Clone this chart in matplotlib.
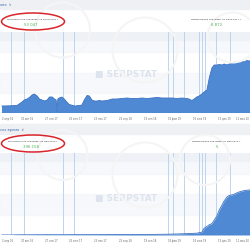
import matplotlib
matplotlib.use("Agg")
import matplotlib.pyplot as plt
from matplotlib.patches import Ellipse, Rectangle, Circle
import pandas as pd

# top chart: visibility over time
top_dates = ["2016-04-01", "2016-05-01", "2016-06-01", "2016-07-01", "2016-07-15",
             "2016-08-01", "2016-08-15", "2016-09-01", "2016-09-15", "2016-10-01",
             "2016-10-15", "2016-11-01", "2016-11-15", "2016-12-01", "2016-12-15",
             "2017-01-01", "2017-01-15", "2017-02-01", "2017-02-15", "2017-02-25",
             "2017-03-02", "2017-03-07", "2017-03-15", "2017-04-01", "2017-04-15",
             "2017-05-01", "2017-05-15", "2017-06-01", "2017-06-22", "2017-07-01",
             "2017-07-15", "2017-08-01", "2017-08-15", "2017-09-01", "2017-09-15",
             "2017-10-01", "2017-10-15", "2017-11-01", "2017-11-15", "2017-12-01",
             "2018-01-01", "2018-02-01", "2018-03-01", "2018-04-01", "2018-05-01",
             "2018-06-01", "2018-07-01", "2018-08-01", "2018-09-01", "2018-10-01",
             "2018-11-01", "2018-12-01", "2019-01-01", "2019-02-01", "2019-03-01",
             "2019-04-01", "2019-05-01", "2019-05-15", "2019-06-01", "2019-06-15",
             "2019-07-01", "2019-07-15", "2019-08-01", "2019-08-15", "2019-09-01",
             "2019-09-15", "2019-10-01", "2019-10-15", "2019-11-01", "2019-11-15",
             "2019-12-01", "2019-12-15", "2020-01-01", "2020-01-15", "2020-02-01",
             "2020-02-15", "2020-03-01", "2020-03-15", "2020-04-01", "2020-04-15",
             "2020-05-01", "2020-05-15", "2020-06-18"]
top_values = [7000, 7100, 7300, 7500, 9000,
              11000, 13000, 14000, 15500, 18000,
              19000, 17000, 14000, 13000, 12000,
              13000, 16000, 16000, 14000, 13000,
              1500, 14000, 15000, 16000, 14000,
              11000, 8500, 7800, 6872, 7300,
              7500, 8000, 13000, 17500, 17000,
              13000, 12000, 12000, 12500, 12000,
              12500, 14000, 14000, 14500, 15000,
              14500, 14500, 15000, 14500, 15000,
              15500, 15000, 15000, 15000, 14500,
              15000, 14500, 14000, 12500, 14000,
              16000, 17000, 19000, 21000, 23000,
              35000, 45000, 48000, 48000, 48500,
              48000, 49000, 48000, 49000, 50000,
              51000, 50000, 51000, 52000, 51000,
              52500, 52000, 53047]

# bottom chart: keywords over time
bottom_dates = ["2016-04-01", "2016-05-20", "2016-07-01", "2016-10-01", "2017-01-01",
                "2017-04-01", "2017-07-01", "2017-10-01", "2018-01-01", "2018-04-01",
                "2018-07-01", "2018-10-01", "2019-01-01", "2019-03-01", "2019-05-01",
                "2019-07-01", "2019-08-01", "2019-08-15", "2019-09-01", "2019-09-15",
                "2019-10-01", "2019-10-15", "2019-11-01", "2019-11-15", "2019-12-01",
                "2019-12-15", "2020-01-01", "2020-01-15", "2020-02-01", "2020-02-15",
                "2020-03-01", "2020-03-15", "2020-04-01", "2020-04-15", "2020-05-01",
                "2020-05-20"]
bottom_values = [200, 5, 1500, 2000, 2500,
                 2500, 3000, 3000, 3500, 4000,
                 4500, 5000, 7000, 9000, 12000,
                 16000, 25000, 60000, 75000, 90000,
                 100000, 130000, 170000, 220000, 262000,
                 300000, 334000, 348000, 352000, 360000,
                 370000, 378000, 385000, 390000, 393000,
                 396158]

# event markers (vertical lines) on both charts
event_dates = ["2016-05-25", "2016-08-12", "2017-04-07", "2017-06-12", "2019-01-07",
               "2019-02-07", "2019-04-12", "2019-07-12", "2019-08-01", "2019-08-19",
               "2019-10-25", "2020-01-19"]

tick_dates = ["2016-04-02", "2016-08-30", "2017-01-27", "2017-06-26", "2017-11-23",
              "2018-04-22", "2018-09-19", "2019-02-16", "2019-07-16", "2019-12-13",
              "2020-05-11"]
tick_labels = ["2 апр 16", "30 авг 16", "27 янв 17", "26 июн 17", "23 ноя 17",
               "22 апр 18", "19 сен 18", "16 фев 19", "16 июл 19", "13 дек 19",
               "11 мая 20"]

panels = [
    dict(dates=top_dates, values=top_values, ymax=81000, rect=[0, 0.548, 1, 0.324],
         header="ово", head_y=0.98, mark_y=0.47,
         max_txt="Максимальное значение: 18 июня 2020 г.", max_val="53 047",
         min_txt="Минимальное значение: 22 июня 2017 г.", min_val="6 872", txt_y=0.924),
    dict(dates=bottom_dates, values=bottom_values, ymax=720000, rect=[0, 0.06, 1, 0.328],
         header="сех время", head_y=0.48, mark_y=0.45,
         max_txt="Максимальное значение: 20 мая 2020 г.", max_val="396 158",
         min_txt="Минимальное значение: 20 мая 2016 г.", min_val="5", txt_y=0.436),
]

fig = plt.figure(figsize=(2.5, 2.5), dpi=100)
fig.patch.set_facecolor("white")

# grey header bands
fig.add_artist(Rectangle((0, 0.964), 1, 0.036, transform=fig.transFigure,
                         color="#eef0f3", zorder=0))
fig.add_artist(Rectangle((0, 0.464), 1, 0.04, transform=fig.transFigure,
                         color="#eef0f3", zorder=0))

# faint logo-like watermark circles
for cx, cy, r in [(0.25, 0.88, 0.11), (0.58, 0.8, 0.13), (0.93, 0.85, 0.1),
                  (0.58, 0.3, 0.13), (0.82, 0.36, 0.1), (0.25, 0.38, 0.1)]:
    fig.add_artist(Circle((cx, cy), r, transform=fig.transFigure, fill=False,
                          ec="#f5f5f5", lw=1.5, zorder=0.5))

xmin = pd.Timestamp("2016-03-20")
xmax = pd.Timestamp("2020-05-20")

for p in panels:
    ax = fig.add_axes(p["rect"])
    ax.patch.set_alpha(0)
    d = pd.to_datetime(p["dates"])
    ymax = p["ymax"]
    # light alternating bands
    step = ymax / 4
    for k in range(4):
        if k % 2 == 1:
            ax.axhspan(k * step, (k + 1) * step, color="#f5f7fa", alpha=0.8, zorder=0)
    ax.axhspan(ymax * 0.9, ymax, color="#eef2f7", zorder=0)
    for e in pd.to_datetime(event_dates):
        ax.axvline(e, color="#b4cfee", lw=0.6, zorder=1)
    ax.fill_between(d, p["values"], color="#5089d3", lw=0, zorder=2)
    ax.plot(d, p["values"], color="#3b72c2", lw=0.6, zorder=3)
    ax.axhline(0, color="#3b72c2", lw=0.8, zorder=3)
    ax.text(0.505, p["mark_y"], "\u25a0 SERPSTAT", transform=ax.transAxes, ha="center",
            va="center", fontsize=6.5, fontweight="bold", color="#dde4ee", zorder=1.5)
    ax.set_xlim(xmin, xmax)
    ax.set_ylim(0, ymax)
    ax.set_xticks(pd.to_datetime(tick_dates))
    labels = ax.set_xticklabels(tick_labels, fontsize=1.8, color="#666666")
    labels[0].set_ha("left")
    labels[-1].set_ha("right")
    ax.tick_params(axis="x", length=0, pad=2.8)
    ax.set_yticks([])
    for s in ax.spines.values():
        s.set_visible(False)

    # header and stats
    fig.text(0.0, p["head_y"], p["header"] + "  \u2228", fontsize=2.6, color="#3d6fb5",
             ha="left", va="center")
    fig.text(0.132, p["txt_y"], p["max_txt"], fontsize=1.7, color="#333333",
             ha="center", va="center")
    fig.text(0.124, p["txt_y"] - 0.022, p["max_val"], fontsize=2.8, color="#4caf50",
             ha="center", va="center")
    fig.text(0.866, p["txt_y"], p["min_txt"], fontsize=1.7, color="#333333",
             ha="center", va="center")
    fig.text(0.868, p["txt_y"] - 0.022, p["min_val"], fontsize=2.8, color="#4caf50",
             ha="center", va="center")
    fig.add_artist(Ellipse((0.132, p["txt_y"] - 0.01), 0.252, 0.068,
                           transform=fig.transFigure, fill=False,
                           ec="#d8262c", lw=1.1, zorder=5))

fig.savefig("out.png", dpi=100)
